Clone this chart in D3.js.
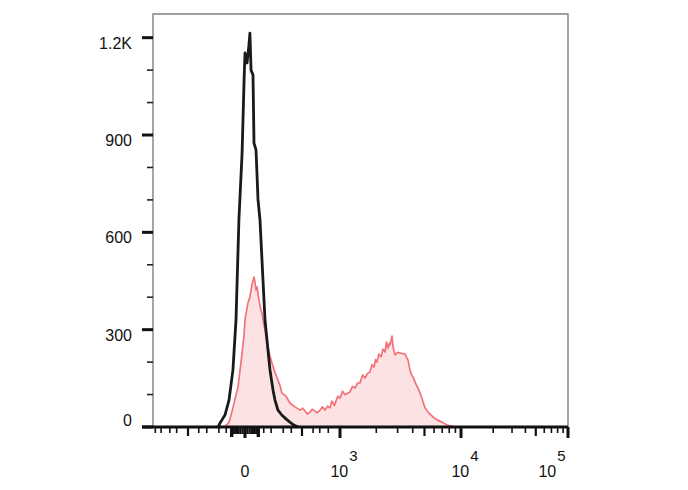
<!DOCTYPE html>
<html><head><meta charset="utf-8">
<script src="https://cdn.jsdelivr.net/npm/d3@7"></script>
<style>html,body{margin:0;padding:0;background:#fff;}svg{display:block;}</style>
</head><body>
<svg id="c" width="688" height="490"></svg>
<script>
// ---------- data ----------
// stained sample (red, filled): intensity, count
const redX = [-13,-10,-9,-6.6,-4.6,-3.4,-2.3,-1.3,-0.4,0,0.9,1.3,2.3,3.4,4.6,5.2,5.9,6.6,8,9.6,10.4,12.2,13.2,15.2,16.3,18.6,21,25,28,34,37,46,56,72,91,105,121,140,166,190,225,260,304,350,411,480,554,620,662,720,790,880,1000,1050,1100,1150,1211,1270,1332,1400,1465,1540,1612,1690,1774,1840,1915,1970,2026,2100,2187,2270,2360,2430,2500,2560,2596,2697,2749,2800,2856,3000,3142,3300,3454,3657,3798,3900,4022,4178,4300,4423,4594,4750,4864,5052,5250,5446,5877,6341,6972,7671,8927];
const redY = [3,12,22,59,99,123,176,228,284,330,367,382,401,438,462,447,422,431,391,360,351,314,299,259,247,219,197,170,154,126,105,95,74,62,52,58,49,40,46,55,49,44,52,62,52,64,59,80,74,66,80,95,89,110,99,104,108,125,120,135,136,160,151,165,170,192,185,208,200,225,216,240,231,262,243,258,253,280,247,235,222,230,228,226,225,206,176,162,154,139,128,120,105,90,77,59,50,43,31,22,15,6,0];
// unstained control (black line): intensity, count
const blackX = [-21,-18.6,-16.3,-13.2,-9.6,-6.6,-4.6,-2.9,-1.3,-0.4,0,0.9,1.8,2.3,2.9,4.0,4.6,5.9,7.3,8.8,11.3,13.2,16.3,18.6,22.5,25.3,30,37,46,56,68,83];
const blackY = [0,12,22,37,83,176,330,641,844,1069,1153,1122,1177,1214,1100,1085,875,854,700,638,453,330,237,176,114,83,52,37,25,15,6,0];

// axes
const yMajor = [0,300,600,900,1200];
const yMajorLabels = ["0","300","600","900","1.2K"];
const yMinor = [100,200,400,500,700,800,1000,1100];
const xMajor = [0,1000,10000,100000];
const xMajorLabels = [["0",""],["10","3"],["10","4"],["10","5"]];
const xMedium = [-100,100,5000,50000];
const xMinor = [-700,-500,-300,-200,-60,-40,-20,-12,12,20,40,60,200,300,500,2000,3000,4000,6000,7000,8000,9000,20000,30000,40000,60000,70000,80000,90000];
const xCluster = [-8,-7,-6,-5,-4,-3,-2,-1,1,2,3,4,5,6,7,8];

// ---------- drawing ----------
const svg = d3.select("#c");
const L = 153, R = 568, T = 14, B = 427;
const x = d3.scaleSymlog().constant(10)
  .domain([-800,-100,0,100,1000,10000,100000])
  .range([L,188,245,302,340,461,R]);
const y = d3.scaleLinear().domain([0,1273]).range([B,T]);

const red = redX.map((v,i)=>[v,redY[i]]);
const blk = blackX.map((v,i)=>[v,blackY[i]]);

svg.append("path").datum(red)
  .attr("d", d3.area().x(d=>x(d[0])).y0(y(0)).y1(d=>y(d[1])))
  .attr("fill","#fde2e3").attr("stroke","none");
svg.append("path").datum(red)
  .attr("d", d3.line().x(d=>x(d[0])).y(d=>y(d[1])))
  .attr("fill","none").attr("stroke","#f2727b").attr("stroke-width",1.7).attr("stroke-linejoin","round");
svg.append("path").datum(blk)
  .attr("d", d3.line().x(d=>x(d[0])).y(d=>y(d[1])))
  .attr("fill","none").attr("stroke","#1a1a1a").attr("stroke-width",2.8).attr("stroke-linejoin","round");

// frame (top/right) and left axis line
svg.append("path").attr("d",`M${L},${B}V${T}H${R}V${B}`)
  .attr("fill","none").attr("stroke","#808080").attr("stroke-width",1.4);

// y ticks
const g = svg.append("g");
yMinor.forEach(v=>{
  g.append("line").attr("x1",147).attr("x2",L).attr("y1",y(v)).attr("y2",y(v))
   .attr("stroke","#222").attr("stroke-width",1.6);
});
yMajor.forEach((v,i)=>{
  g.append("line").attr("x1",142).attr("x2",L).attr("y1",y(v)).attr("y2",y(v))
   .attr("stroke","#111").attr("stroke-width",3);
  g.append("text").attr("x",132).attr("y", v===0 ? 426 : y(v)+11)
   .attr("text-anchor","end").attr("font-family","Liberation Sans, Arial, sans-serif")
   .attr("font-size",16).attr("fill","#111").text(yMajorLabels[i]);
});

// bottom axis line
svg.append("line").attr("x1",142).attr("x2",R).attr("y1",B).attr("y2",B)
  .attr("stroke","#111").attr("stroke-width",3);

// x ticks
xMinor.forEach(v=>{
  g.append("line").attr("x1",x(v)).attr("x2",x(v)).attr("y1",B).attr("y2",B+6)
   .attr("stroke","#111").attr("stroke-width",1.6);
});
xCluster.forEach(v=>{
  g.append("line").attr("x1",x(v)).attr("x2",x(v)).attr("y1",B).attr("y2",B+ (Math.abs(v)>=7?10:7))
   .attr("stroke","#111").attr("stroke-width",2);
});
xMedium.forEach(v=>{
  g.append("line").attr("x1",x(v)).attr("x2",x(v)).attr("y1",B).attr("y2",B+9)
   .attr("stroke","#111").attr("stroke-width",2.2);
});
xMajor.forEach((v,i)=>{
  g.append("line").attr("x1",x(v)).attr("x2",x(v)).attr("y1",B).attr("y2",B+11)
   .attr("stroke","#111").attr("stroke-width",3);
  const lab = xMajorLabels[i];
  const cx = lab[1]==="" ? x(v) : Math.min(x(v)+4, 552);
  const t = g.append("text").attr("x",cx).attr("y",477).attr("text-anchor","middle")
   .attr("font-family","Liberation Sans, Arial, sans-serif").attr("font-size",16).attr("fill","#111");
  t.append("tspan").text(lab[0]);
  if (lab[1]!=="") t.append("tspan").attr("dy",-16).attr("dx",1).attr("font-size",15).text(lab[1]);
});
</script>
</body></html>
